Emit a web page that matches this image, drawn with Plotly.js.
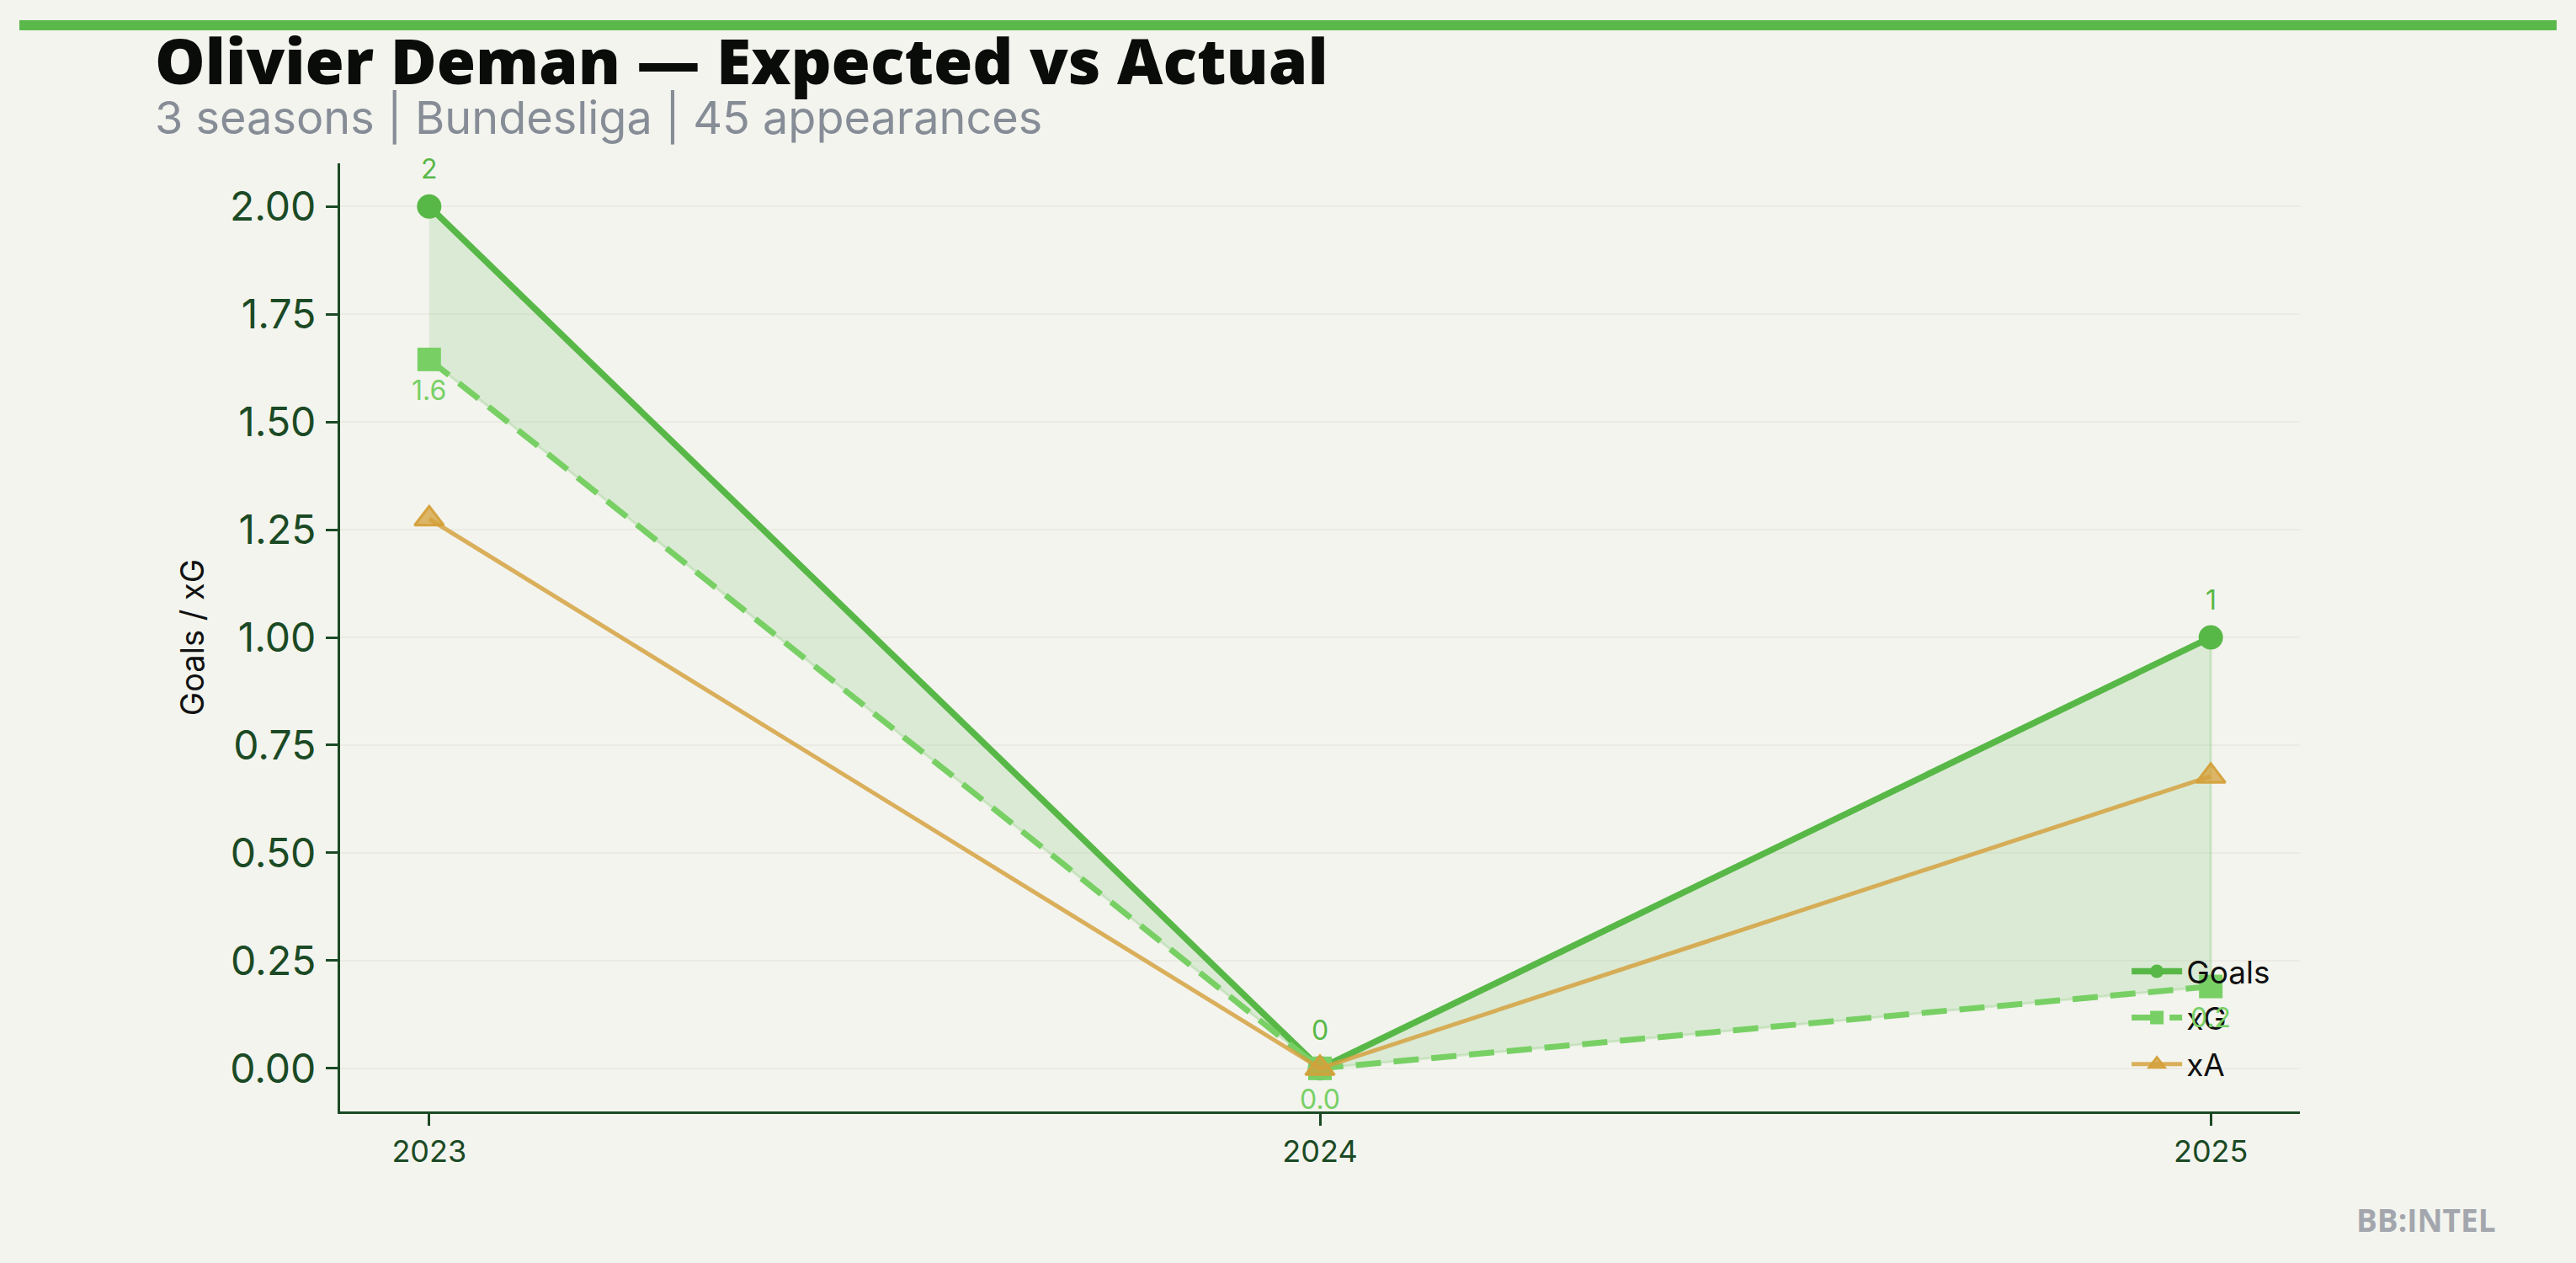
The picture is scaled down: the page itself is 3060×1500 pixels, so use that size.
<!DOCTYPE html>
<html>
<head>
<meta charset="utf-8">
<script src="https://cdn.plot.ly/plotly-3.0.1.min.js"></script>
<style>
  html, body { margin: 0; padding: 0; background: #f3f4ee; }
  #chart { width: 3060px; height: 1500px; position: relative; }
  #topbar { position: absolute; left: 23px; top: 24px; width: 3014px; height: 12px; background: #5bb94b; z-index: 5; }
</style>
</head>
<body>
<div id="chart"><div id="topbar"></div></div>
<script>
// ---- data ----
const seasons = [2023, 2024, 2025];
const seasonLabels = ["2023", "2024", "2025"];
const goals = [2, 0, 1];
const xG = [1.645, 0.0, 0.19];
const xA = [1.275, 0.0, 0.678];
const yTicks = [0, 0.25, 0.5, 0.75, 1.0, 1.25, 1.5, 1.75, 2.0];

const titleText = "Olivier Deman \u2014 Expected vs Actual";
const subtitleText = "3 seasons | Bundesliga | 45 appearances";
const yTitle = "Goals / xG";
const brand = "BB:INTEL";

// ---- styles ----
const cGoals = "#58b847";
const cXG = "#78d065";
const cXA = "rgba(212,160,58,0.82)";
const axisColor = "#1b4a24";
const bg = "#f3f4ee";

// fill polygon between goals and xG
const fillX = seasons.concat(seasons.slice().reverse());
const fillY = goals.concat(xG.slice().reverse());

const traces = [
  {
    x: fillX, y: fillY, type: "scatter", mode: "lines",
    fill: "toself", fillcolor: "rgba(88,184,71,0.15)",
    line: { color: "rgba(88,184,71,0.2)", width: 3 },
    showlegend: false, hoverinfo: "skip"
  },
  {
    x: seasons, y: goals, type: "scatter", mode: "lines+markers", name: "Goals", legendgroup: "g1",
    line: { color: cGoals, width: 7.5 },
    marker: { color: cGoals, size: 29, symbol: "circle" }
  },
  {
    x: seasons, y: xG, type: "scatter", mode: "lines+markers", name: "xG", legendgroup: "g2",
    line: { color: cXG, width: 7, dash: "30px,15px" },
    marker: { color: cXG, size: 28, symbol: "square" }
  },
  {
    x: seasons, y: xA, type: "scatter", mode: "lines+markers", name: "xA", legendgroup: "g3",
    line: { color: cXA, width: 5 },
    marker: { color: "rgba(212,160,58,0.75)", size: 30, symbol: "triangle-up",
              line: { color: "rgba(212,160,58,0.95)", width: 3 } }
  }
];

const annotations = [];
seasons.forEach((s, i) => {
  annotations.push({
    x: s, y: goals[i], xref: "x", yref: "y", text: String(goals[i]),
    showarrow: false, yshift: 45, yanchor: "middle",
    font: { family: "Inter", size: 32, color: cGoals }
  });
  annotations.push({
    x: s, y: xG[i], xref: "x", yref: "y", text: xG[i].toFixed(1),
    showarrow: false, yshift: -37, yanchor: "middle",
    font: { family: "Inter", size: 32, color: cXG }
  });
});

// title / subtitle / brand
annotations.push({
  xref: "paper", yref: "paper", x: -0.0954, y: 1.109, xanchor: "left", yanchor: "middle",
  text: titleText, showarrow: false,
  font: { family: "Open Sans", size: 75, color: "#0a0c0a", weight: 800 }
});
annotations.push({
  xref: "paper", yref: "paper", x: -0.0954, y: 1.0485, xanchor: "left", yanchor: "middle",
  text: subtitleText, showarrow: false,
  font: { family: "Inter", size: 54, color: "#878d97" }
});
annotations.push({
  xref: "paper", yref: "paper", x: 1.101, y: -0.1137, xanchor: "right", yanchor: "middle",
  text: "<b>" + brand + "</b>", showarrow: false,
  font: { family: "Open Sans", size: 37, color: "#a3a6ad" }
});

const layout = {
  width: 3060, height: 1500, autosize: false,
  paper_bgcolor: bg, plot_bgcolor: bg,
  margin: { l: 404, r: 328, t: 194, b: 180, pad: 0 },
  showlegend: true,
  legend: {
    x: 0.912, xanchor: "left", y: 0.175, yanchor: "top",
    bgcolor: "rgba(0,0,0,0)", borderwidth: 0,
    font: { family: "Inter", size: 37, color: "#111111" },
    itemwidth: 60, tracegroupgap: 4
  },
  xaxis: {
    type: "linear", range: [2022.9, 2025.1],
    tickvals: seasons, ticktext: seasonLabels,
    showgrid: false, zeroline: false,
    showline: true, linecolor: axisColor, linewidth: 3,
    ticks: "outside", ticklen: 14, tickwidth: 3, tickcolor: axisColor,
    tickfont: { family: "Inter", size: 36, color: axisColor },
    ticklabelstandoff: 0
  },
  yaxis: {
    range: [-0.1, 2.1], tickvals: yTicks, tickformat: ".2f",
    showgrid: true, gridcolor: "#ebebe4", gridwidth: 2,
    zeroline: false,
    showline: true, linecolor: axisColor, linewidth: 3,
    ticks: "outside", ticklen: 14, tickwidth: 3, tickcolor: axisColor,
    tickfont: { family: "Inter", size: 48, color: axisColor },
    ticklabelstandoff: 2,
    title: { text: yTitle, standoff: 19, font: { family: "Inter", size: 38, color: "#111111" } }
  },
  annotations: annotations
};

Plotly.newPlot("chart", traces, layout, { displayModeBar: false, staticPlot: true });
</script>
</body>
</html>
